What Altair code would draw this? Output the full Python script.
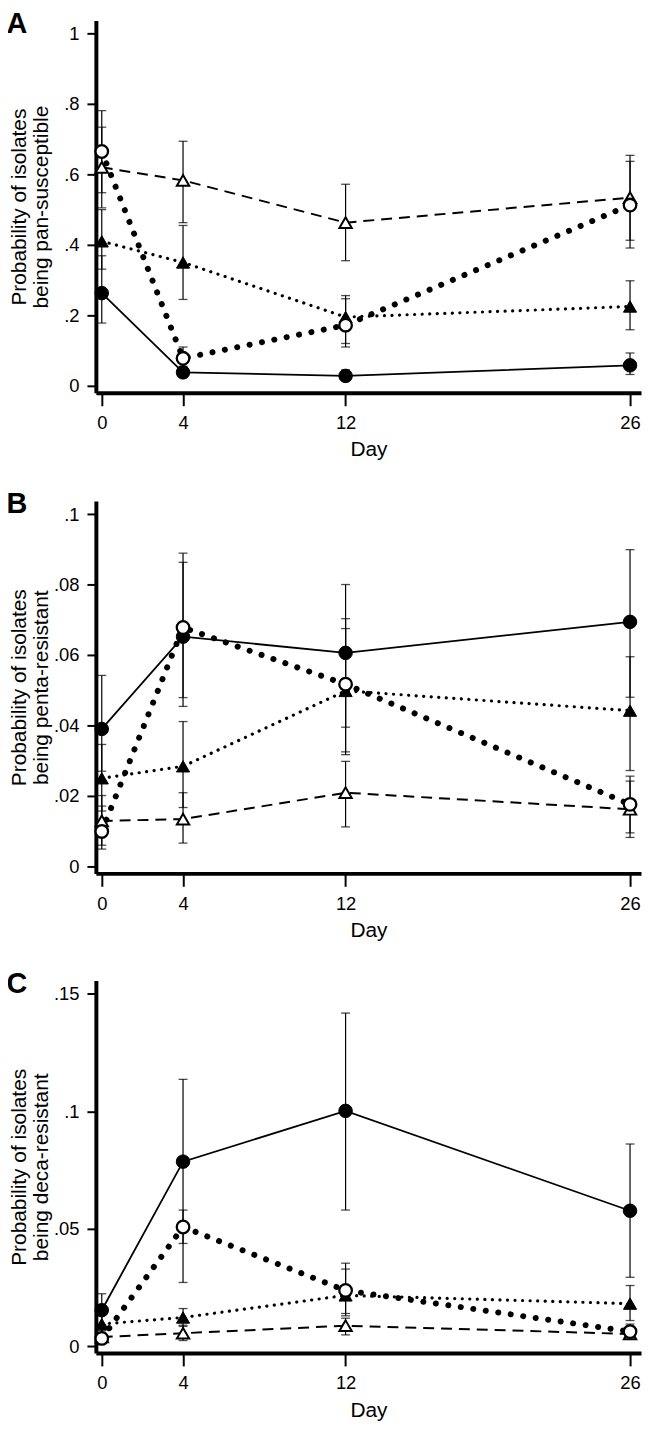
import altair as alt
import pandas as pd

days = [0, 4, 12, 26]
series = ["fc", "oc", "ft", "ot"]  # filled circle, open circle, filled triangle, open triangle

# Panel A: pan-susceptible
a_est = {"fc": [0.263, 0.038, 0.028, 0.058],
         "oc": [0.665, 0.078, 0.172, 0.513],
         "ft": [0.410, 0.350, 0.195, 0.225],
         "ot": [0.620, 0.583, 0.463, 0.534]}
a_lo = {"fc": [0.178, 0.025, 0.016, 0.032],
        "oc": [0.548, 0.052, 0.110, 0.391],
        "ft": [0.331, 0.245, 0.120, 0.159],
        "ot": [0.505, 0.463, 0.355, 0.413]}
a_hi = {"fc": [0.369, 0.055, 0.045, 0.093],
        "oc": [0.781, 0.110, 0.247, 0.637],
        "ft": [0.500, 0.455, 0.256, 0.298],
        "ot": [0.734, 0.694, 0.572, 0.654]}

# Panel B: penta-resistant
b_est = {"fc": [0.0390, 0.0652, 0.0606, 0.0694],
         "oc": [0.0099, 0.0678, 0.0517, 0.0176],
         "ft": [0.0250, 0.0284, 0.0498, 0.0442],
         "ot": [0.0129, 0.0134, 0.0209, 0.0162]}
b_lo = {"fc": [0.0270, 0.0479, 0.0395, 0.0480],
        "oc": [0.0049, 0.0454, 0.0325, 0.0082],
        "ft": [0.0157, 0.0167, 0.0317, 0.0272],
        "ot": [0.0060, 0.0066, 0.0112, 0.0095]}
b_hi = {"fc": [0.0542, 0.0863, 0.0800, 0.0899],
        "oc": [0.0171, 0.0889, 0.0703, 0.0256],
        "ft": [0.0346, 0.0411, 0.0675, 0.0595],
        "ot": [0.0201, 0.0209, 0.0298, 0.0242]}

# Panel C: deca-resistant
c_est = {"fc": [0.0154, 0.0786, 0.1002, 0.0577],
         "oc": [0.0034, 0.0508, 0.0238, 0.0063],
         "ft": [0.0095, 0.0123, 0.0217, 0.0182],
         "ot": [0.0040, 0.0056, 0.0088, 0.0053]}
c_lo = {"fc": [0.0090, 0.0272, 0.0580, 0.0294],
        "oc": [0.0012, 0.0438, 0.0140, 0.0030],
        "ft": [0.0060, 0.0085, 0.0130, 0.0110],
        "ot": [0.0020, 0.0025, 0.0049, 0.0030]}
c_hi = {"fc": [0.0224, 0.1136, 0.1418, 0.0861],
        "oc": [0.0070, 0.0580, 0.0354, 0.0095],
        "ft": [0.0140, 0.0161, 0.0329, 0.0259],
        "ot": [0.0070, 0.0090, 0.0120, 0.0085]}

FONT = "Liberation Sans"
W, H = 549, 375


def make_df(est, lo, hi):
    rows = []
    for s in series:
        for i, d in enumerate(days):
            rows.append({"series": s, "day": d, "est": est[s][i], "lo": lo[s][i], "hi": hi[s][i]})
    return pd.DataFrame(rows)


line_styles = {
    "fc": dict(strokeWidth=1.8),
    "oc": dict(strokeWidth=6, strokeDash=[0.1, 12.6], strokeCap="round"),
    "ft": dict(strokeWidth=3.2, strokeDash=[0.1, 7.5], strokeCap="round"),
    "ot": dict(strokeWidth=2, strokeDash=[11, 7]),
}
point_styles = {
    "fc": dict(shape="circle", size=185, filled=True, fill="black", stroke="black", strokeWidth=1, opacity=1),
    "oc": dict(shape="circle", size=160, filled=True, fill="white", stroke="black", strokeWidth=2.3, opacity=1),
    "ft": dict(shape="triangle-up", size=175, filled=True, fill="black", stroke="black", strokeWidth=1, opacity=1),
    "ot": dict(shape="triangle-up", size=155, filled=True, fill="white", stroke="black", strokeWidth=2, opacity=1),
}


def panel(est, lo, hi, ytitle, yvals, ydom, letter):
    df = make_df(est, lo, hi)
    base = alt.Chart(df)
    xscale = alt.Scale(domain=[-0.29, 26.54], nice=False, zero=False)
    yscale = alt.Scale(domain=ydom, nice=False, zero=False)
    xaxis = alt.Axis(values=days, title="Day", labelFontSize=18.5, titleFontSize=21,
                     titleFontWeight="normal", tickSize=13, tickWidth=2, domainWidth=4,
                     labelPadding=8, titlePadding=7, labelFont=FONT, titleFont=FONT,
                     grid=False, domainColor="black", tickColor="black",
                     labelColor="black", titleColor="black", labelFlush=False)
    yaxis = alt.Axis(values=yvals, title=ytitle, labelFontSize=18.5, titleFontSize=21,
                     titleFontWeight="normal", tickSize=9, tickWidth=2, domainWidth=4,
                     labelPadding=8, labelFont=FONT, titleFont=FONT, grid=False,
                     domainColor="black", tickColor="black", labelColor="black",
                     titleColor="black", titleX=-67, titleY=H / 2, titleLineHeight=22,
                     labelExpr="replace(format(datum.value, '~g'), '0.', '.')",
                     labelFlush=False)
    X = alt.X("day:Q", scale=xscale, axis=xaxis)

    def Y(f):
        return alt.Y(f + ":Q", scale=yscale, axis=yaxis)

    layers = []
    layers.append(base.mark_rule(color="black", strokeWidth=1.2).encode(x=X, y=Y("lo"), y2="hi:Q"))
    layers.append(base.mark_tick(color="black", orient="horizontal", size=9, thickness=1.3).encode(x=X, y=Y("lo")))
    layers.append(base.mark_tick(color="black", orient="horizontal", size=9, thickness=1.3).encode(x=X, y=Y("hi")))
    for s in ["ot", "ft", "oc", "fc"]:
        layers.append(base.transform_filter(alt.datum.series == s)
                      .mark_line(color="black", **line_styles[s])
                      .encode(x=X, y=Y("est"), order="day:Q"))
    for s in ["fc", "ft", "ot", "oc"]:
        layers.append(base.transform_filter(alt.datum.series == s)
                      .mark_point(**point_styles[s])
                      .encode(x=X, y=Y("est")))
    lab = alt.Chart(pd.DataFrame({"t": [letter]})).mark_text(
        font=FONT, fontSize=29, fontWeight="bold", align="center", baseline="alphabetic", color="black"
    ).encode(x=alt.value(-79.5), y=alt.value(12.5), text="t:N")
    layers.append(lab)
    return alt.layer(*layers).properties(width=W, height=H)


pA = panel(a_est, a_lo, a_hi, ["Probability of isolates", "being pan-susceptible"],
           [0, 0.2, 0.4, 0.6, 0.8, 1], [-0.02, 1.037], "A")
pB = panel(b_est, b_lo, b_hi, ["Probability of isolates", "being penta-resistant"],
           [0, 0.02, 0.04, 0.06, 0.08, 0.1], [-0.002, 0.1037], "B")
pC = panel(c_est, c_lo, c_hi, ["Probability of isolates", "being deca-resistant"],
           [0, 0.05, 0.1, 0.15], [-0.0028, 0.1556], "C")

chart = alt.vconcat(alt.vconcat(pA, pB, spacing=30), pC, spacing=29).properties(
    padding={"left": -1.5, "top": -3.5, "right": 0, "bottom": 0}
).configure_view(stroke=None)

chart.save("out.html", embed_options={"renderer": "svg", "actions": False})
